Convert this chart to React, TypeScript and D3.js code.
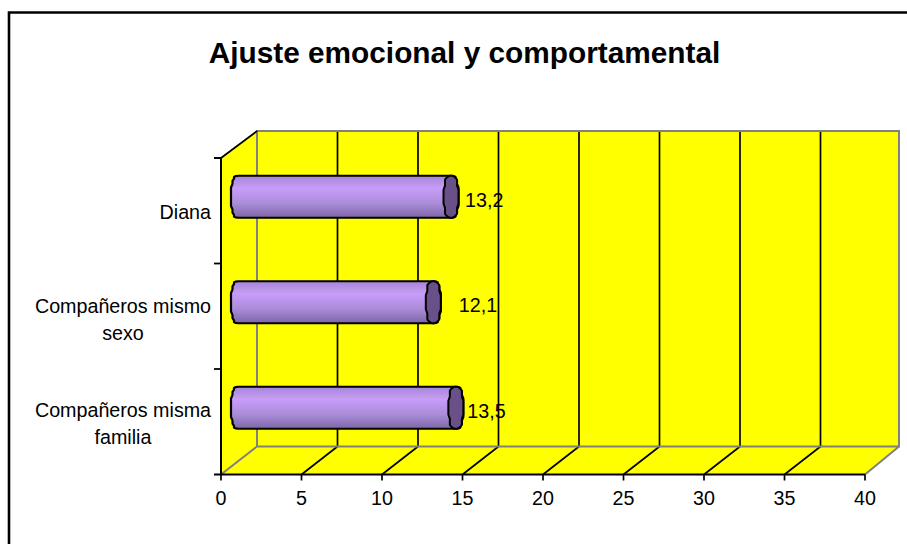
import React from "react";
import * as d3 from "d3";

const title = "Ajuste emocional y comportamental";
const categories = [["Diana"], ["Compañeros mismo", "sexo"], ["Compañeros misma", "familia"]];
const values = [13.2, 12.1, 13.5];
const valueLabels = ["13,2", "12,1", "13,5"];
const labelNudges = [31.5, 43, 29];
const categoryDrop = [22.5, 10.5, 9];
const xTicks = [0, 5, 10, 15, 20, 25, 30, 35, 40];

const W = 907, H = 544;
const FONT = "'Liberation Sans', Arial, sans-serif";
const FS = 19.7;
const x = d3.scaleLinear().domain([0, 40]).range([221, 865]);
const y = d3.scaleBand<number>().domain([0, 1, 2]).range([158, 474.5]);
const dx = 36;
const barH = 42, barOff = 17.5, rx = 7;
const floorY = 474.5, backTop = 131, backBottom = 446.5;
const line = d3.line<[number, number]>();
const px = (v: number) => x(v) + barOff;

function capPts(cx: number, cy: number, from: number, to: number, n = 15): [number, number][] {
  return d3.range(n + 1).map((i) => {
    const t = from + ((to - from) * i) / n;
    const c = Math.cos(t), s = Math.sin(t);
    const ex = Math.round((rx * Math.sign(c) * Math.pow(Math.abs(c), 0.55)) / 1.5) * 1.5;
    const ey = (barH / 2) * Math.sign(s) * Math.pow(Math.abs(s), 0.7);
    return [cx + ex, cy + ey] as [number, number];
  });
}

export default function App() {
  const xb = x(40);
  const x0 = x(0);
  return (
    <svg width={W} height={H} style={{ position: "absolute", left: 0, top: 0, background: "#fff" }} fontFamily={FONT}>
      <defs>
        <linearGradient id="cyl" x1="0" y1="0" x2="0" y2="1">
          <stop offset="0" stopColor="#a585d6" />
          <stop offset="0.3" stopColor="#c89cfb" />
          <stop offset="0.65" stopColor="#ab8dd9" />
          <stop offset="1" stopColor="#7e66a8" />
        </linearGradient>
      </defs>
      <path d={`M9 ${H}V12.5H${W}`} fill="none" stroke="#000" strokeWidth={2.6} />
      <text x={464.5} y={63} textAnchor="middle" fontSize={29.8} fontWeight="bold" fill="#000">{title}</text>

      <polygon points={`${x0},158 ${x0 + dx},${backTop} ${x0 + dx},${backBottom} ${x0},${floorY}`} fill="#ffff00" />
      <polygon points={`${x0},${floorY} ${x0 + dx},${backBottom} ${xb + dx - 2},${backBottom} ${xb},${floorY}`} fill="#ffff00" />
      <rect x={x0 + dx} y={backTop} width={xb - x0 - 2} height={backBottom - backTop} fill="#ffff00" />

      {xTicks.slice(1, -1).map((t) => (
        <g key={t} stroke="#000" strokeWidth={1.7} fill="none">
          <line x1={x(t) + dx} x2={x(t) + dx} y1={backTop} y2={backBottom} />
          <line x1={x(t)} y1={floorY} x2={x(t) + dx} y2={backBottom} />
        </g>
      ))}
      <path
        d={`M${x0} ${floorY}L${x0 + dx} ${backBottom}V${backTop}H${xb + 34}V${backBottom}H${x0 + dx}M${xb + 34} ${backBottom}L${xb} ${floorY}`}
        fill="none" stroke="#808080" strokeWidth={2}
      />
      <path d={`M${x0} 158L${x0 + dx} ${backTop}`} stroke="#000" strokeWidth={1.8} fill="none" />
      <path d={`M${x0 - 7} 158H${x0}V${floorY}M${x0 - 7} ${floorY}H${xb}`} stroke="#000" strokeWidth={2} fill="none" />
      {[1, 2].map((i) => (
        <line key={i} x1={x0 - 7} x2={x0} y1={y(i)!} y2={y(i)!} stroke="#000" strokeWidth={1.8} />
      ))}
      {xTicks.map((t) => (
        <g key={t}>
          <line x1={x(t)} x2={x(t)} y1={floorY} y2={floorY + 6} stroke="#000" strokeWidth={1.7} />
          <text x={x(t)} y={505} textAnchor="middle" fontSize={FS} fill="#000">{t}</text>
        </g>
      ))}

      {categories.map((lines, i) => {
        const cc = y(i)! + y.bandwidth() / 2 - 14;
        const bx = px(0);
        const ex = px(values[i]);
        const top = cc - barH / 2;
        const outline = [
          ...capPts(bx, cc, Math.PI / 2, (3 * Math.PI) / 2),
          ...capPts(ex, cc, -Math.PI / 2, Math.PI / 2),
        ];
        const cap = capPts(ex, cc, 0, 2 * Math.PI, 30);
        const ty = cc + categoryDrop[i];
        const tx = lines.length === 1 ? 211 : 123;
        return (
          <g key={i}>
            <path d={line(outline)! + "Z"} fill="url(#cyl)" stroke="#000" strokeWidth={2.2} strokeLinejoin="round" />
            <line x1={bx - 4} x2={ex - 6} y1={top + 9.5} y2={top + 9.5} stroke="#bfa0d8" strokeWidth={1.2} />
            <path d={line(cap)! + "Z"} fill="#6a5088" stroke="#000" strokeWidth={2} strokeLinejoin="round" />
            <text x={x(values[i]) + labelNudges[i]} y={cc + 10} fontSize={FS} fill="#000">{valueLabels[i]}</text>
            <text textAnchor={lines.length === 1 ? "end" : "middle"} fontSize={FS} fill="#000">
              {lines.map((s, k) => (
                <tspan key={k} x={tx} y={ty + k * 27}>{s}</tspan>
              ))}
            </text>
          </g>
        );
      })}
    </svg>
  );
}
